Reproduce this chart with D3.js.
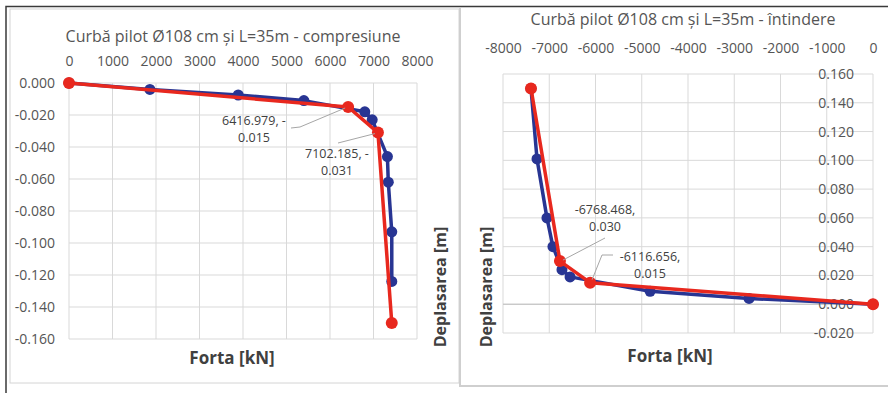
<!DOCTYPE html>
<html>
<head>
<meta charset="utf-8">
<script src="https://cdn.jsdelivr.net/npm/d3@7"></script>
<style>
  body { margin: 0; background: #fff; }
  text { font-family: "Open Sans", sans-serif; }
</style>
</head>
<body>
<div id="canvas"></div>
<script>
// compresiune (left chart)
var compTicksX = [0, 1000, 2000, 3000, 4000, 5000, 6000, 7000, 8000];
var compTicksY = [0, -0.02, -0.04, -0.06, -0.08, -0.10, -0.12, -0.14, -0.16];
var compBlue = [[0, 0], [1860, -0.004], [3890, -0.0075], [5400, -0.011], [6800, -0.018],
                [6970, -0.023], [7320, -0.046], [7340, -0.062], [7420, -0.093], [7420, -0.124]];
var compRed = [[0, 0], [6416.979, -0.015], [7102.185, -0.031], [7420, -0.150]];
var compNotes = [[6416.979, -0.015, '6416.979, -', '0.015'], [7102.185, -0.031, '7102.185, -', '0.031']];

// intindere (right chart)
var tensTicksX = [-8000, -7000, -6000, -5000, -4000, -3000, -2000, -1000, 0];
var tensTicksY = [0.16, 0.14, 0.12, 0.10, 0.08, 0.06, 0.04, 0.02, 0, -0.02];
var tensBlue = [[-7395, 0.150], [-7265, 0.101], [-7050, 0.060], [-6920, 0.040], [-6725, 0.024],
                [-6550, 0.019], [-4820, 0.009], [-2680, 0.004], [0, 0]];
var tensRed = [[-7395, 0.150], [-6768.468, 0.030], [-6116.656, 0.015], [0, 0]];
var tensNotes = [[-6768.468, 0.030, '-6768.468,', '0.030'], [-6116.656, 0.015, '-6116.656,', '0.015']];

var gridColor = '#d9d9d9';
var labelColor = '#555555';
var blue = '#283593';
var red = '#e8281e';

// excel style: plain hyphen for negatives
var loc = d3.formatLocale({decimal: '.', thousands: '', grouping: [3], currency: ['', ''], minus: '-'});
var fmtInt = loc.format('d');
var fmtDec = loc.format('.3f');

svg = d3.select('#canvas').append('svg')
  .attr('width', 888)
  .attr('height', 393);

// frames
svg.append('rect').attr('x', 10).attr('y', 9).attr('width', 449).attr('height', 374)
  .attr('fill', 'none').attr('stroke', '#d4d4d4');
svg.append('path').attr('d', 'M460 8 V386 H888').attr('fill', 'none')
  .attr('stroke', '#cfcfcf').attr('stroke-width', 2);
svg.append('path').attr('d', 'M6 393 V6.5 H888').attr('fill', 'none')
  .attr('stroke', '#3a3a3a').attr('stroke-width', 1.5);

drawSeries = function(g, data, x, y, color, r) {
  var line = d3.line().x(function(d) { return x(d[0]); }).y(function(d) { return y(d[1]); });
  g.append('path').datum(data).attr('d', line)
    .attr('fill', 'none').attr('stroke', color).attr('stroke-width', 3.5)
    .attr('stroke-linejoin', 'round');
  g.selectAll(null).data(data).enter().append('circle')
    .attr('cx', function(d) { return x(d[0]); })
    .attr('cy', function(d) { return y(d[1]); })
    .attr('r', r).attr('fill', color);
};

drawGrid = function(g, x, y, ticksX, ticksY) {
  g.selectAll(null).data(ticksX).enter().append('line')
    .attr('x1', function(d) { return x(d); }).attr('x2', function(d) { return x(d); })
    .attr('y1', y.range()[0]).attr('y2', y.range()[1])
    .attr('stroke', gridColor);
  g.selectAll(null).data(ticksY).enter().append('line')
    .attr('y1', function(d) { return y(d); }).attr('y2', function(d) { return y(d); })
    .attr('x1', x.range()[0]).attr('x2', x.range()[1])
    .attr('stroke', gridColor);
};

// ---------- left: compresiune ----------
var xL = d3.scaleLinear().domain([0, 8000]).range([69, 417]);
var yL = d3.scaleLinear().domain([-0.16, 0]).range([339, 83]);
var left = svg.append('g');

drawGrid(left, xL, yL, compTicksX, compTicksY);

left.append('g').attr('transform', 'translate(0,66)')
  .call(d3.axisTop(xL).tickValues(compTicksX).tickSize(0).tickPadding(0).tickFormat(fmtInt))
  .call(function(a) { a.select('.domain').remove(); });
left.append('g').attr('transform', 'translate(69,0)')
  .call(d3.axisLeft(yL).tickValues(compTicksY).tickSize(0).tickPadding(14).tickFormat(fmtDec))
  .call(function(a) { a.select('.domain').remove(); });

left.append('text').attr('x', 233).attr('y', 42).attr('text-anchor', 'middle')
  .style('font-size', '16px').attr('fill', labelColor)
  .text('Curbă pilot Ø108 cm și L=35m - compresiune');
left.append('text').attr('x', 232).attr('y', 364).attr('text-anchor', 'middle')
  .style('font-size', '17px').style('font-weight', 'bold').attr('fill', '#404040')
  .text('Forta [kN]');
left.append('text').attr('transform', 'translate(446,287) rotate(-90)').attr('text-anchor', 'middle')
  .style('font-size', '16px').style('font-weight', 'bold').attr('fill', '#404040')
  .text('Deplasarea [m]');

drawSeries(left, compBlue, xL, yL, blue, 5.5);
drawSeries(left, compRed, xL, yL, red, 6);

// leader lines + labels
left.append('path').attr('d', 'M291 128 L300 127 L' + (xL(compNotes[0][0]) - 3) + ' ' + (yL(compNotes[0][1]) + 1))
  .attr('fill', 'none').attr('stroke', '#a6a6a6');
left.append('path').attr('d', 'M338 143 L' + (xL(compNotes[1][0]) - 3) + ' ' + (yL(compNotes[1][1]) + 1))
  .attr('fill', 'none').attr('stroke', '#a6a6a6');
var notePosL = [[254, 125], [337, 158]];
compNotes.forEach(function(n, i) {
  var t = left.append('text').attr('text-anchor', 'middle').style('font-size', '12.5px').attr('fill', '#404040');
  t.append('tspan').attr('x', notePosL[i][0]).attr('y', notePosL[i][1]).text(n[2]);
  t.append('tspan').attr('x', notePosL[i][0]).attr('y', notePosL[i][1] + 17).text(n[3]);
});

// ---------- right: intindere ----------
var xR = d3.scaleLinear().domain([-8000, 0]).range([503, 873]);
var yR = d3.scaleLinear().domain([-0.02, 0.16]).range([333, 74]);
var right = svg.append('g');

drawGrid(right, xR, yR, tensTicksX, tensTicksY);
right.append('line').attr('x1', xR.range()[0]).attr('x2', xR.range()[1])
  .attr('y1', yR(0)).attr('y2', yR(0)).attr('stroke', '#bfbfbf');

right.append('g').attr('transform', 'translate(0,53)')
  .call(d3.axisTop(xR).tickValues(tensTicksX).tickSize(0).tickPadding(0).tickFormat(fmtInt))
  .call(function(a) { a.select('.domain').remove(); });
right.append('g').attr('transform', 'translate(873,0)')
  .call(d3.axisLeft(yR).tickValues(tensTicksY).tickSize(0).tickPadding(19).tickFormat(fmtDec))
  .call(function(a) { a.select('.domain').remove(); });

right.append('text').attr('x', 683).attr('y', 25).attr('text-anchor', 'middle')
  .style('font-size', '16px').attr('fill', labelColor)
  .text('Curbă pilot Ø108 cm și L=35m - întindere');
right.append('text').attr('x', 670).attr('y', 362).attr('text-anchor', 'middle')
  .style('font-size', '17px').style('font-weight', 'bold').attr('fill', '#404040')
  .text('Forta [kN]');
right.append('text').attr('transform', 'translate(492,287) rotate(-90)').attr('text-anchor', 'middle')
  .style('font-size', '16px').style('font-weight', 'bold').attr('fill', '#404040')
  .text('Deplasarea [m]');

drawSeries(right, tensBlue, xR, yR, blue, 5.5);
drawSeries(right, tensRed, xR, yR, red, 6);

right.append('path').attr('d', 'M605 238 L' + (xR(tensNotes[0][0]) + 3) + ' ' + (yR(tensNotes[0][1]) - 1))
  .attr('fill', 'none').attr('stroke', '#a6a6a6');
right.append('path').attr('d', 'M613 255 L602 255 L' + (xR(tensNotes[1][0]) + 2) + ' ' + (yR(tensNotes[1][1]) - 3))
  .attr('fill', 'none').attr('stroke', '#a6a6a6');
var notePosR = [[605, 214], [650, 261]];
tensNotes.forEach(function(n, i) {
  var t = right.append('text').attr('text-anchor', 'middle').style('font-size', '12.5px').attr('fill', '#404040');
  t.append('tspan').attr('x', notePosR[i][0]).attr('y', notePosR[i][1]).text(n[2]);
  t.append('tspan').attr('x', notePosR[i][0]).attr('y', notePosR[i][1] + 17).text(n[3]);
});

// tick label styling
svg.selectAll('.tick text').style('font-size', '14px').attr('fill', labelColor)
  .style('font-family', '"Open Sans", sans-serif');
</script>
</body>
</html>
